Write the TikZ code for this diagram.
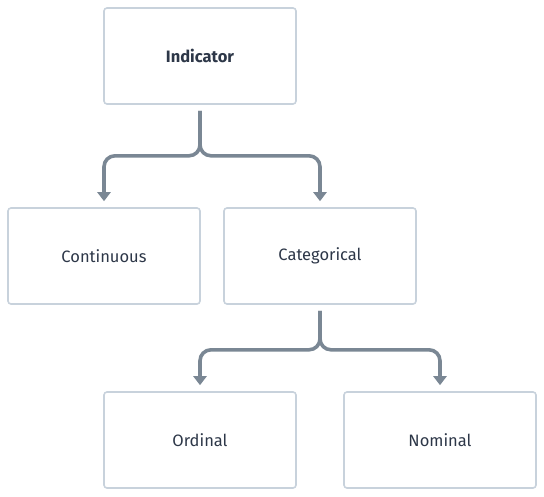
\documentclass[tikz,border=0pt]{standalone}
\usepackage{fontspec}
\setmainfont{Fira Sans}
\usetikzlibrary{positioning,calc}
\usetikzlibrary{arrows.meta}
\definecolor{BoxLine}{RGB}{200,210,220}
\definecolor{LinkGray}{RGB}{122,135,148}
\definecolor{InkDark}{RGB}{45,55,72}
\tikzset{cls/.style={rectangle,draw=BoxLine,line width=1.6pt,rounded corners=3pt,fill=white,minimum width=192pt,minimum height=96pt,inner sep=0pt,font=\fontsize{16.5}{19}\selectfont,text=InkDark}, link/.style={draw=LinkGray,line width=3.6pt,rounded corners=11pt,-{Triangle[width=13pt,length=9pt]}}}
\begin{document}
\begin{tikzpicture}[x=1pt,y=-1pt]
\useasboundingbox (0,0) rectangle (544,496);
\node[cls,font=\fontsize{16.5}{19}\selectfont\bfseries] (ind) at (200,56) {Indicator};
\node[cls] (cont) at (104,256) {Continuous};
\node[cls] (cat) at (320,256) {Categorical};
\node[cls] (ord) at (200,440) {Ordinal};
\node[cls] (nom) at (440,440) {Nominal};
\coordinate (indout) at ($(ind.south)+(0,6)$);
\coordinate (catout) at ($(cat.south)+(0,6)$);
\draw[link] (indout) -- ++(0,45) -| ($(cont.north)+(0,-6)$);
\draw[link] (indout) -- ++(0,45) -| ($(cat.north)+(0,-6)$);
\draw[link] (catout) -- ++(0,39) -| ($(ord.north)+(0,-6)$);
\draw[link] (catout) -- ++(0,39) -| ($(nom.north)+(0,-6)$);
\end{tikzpicture}
\end{document}
